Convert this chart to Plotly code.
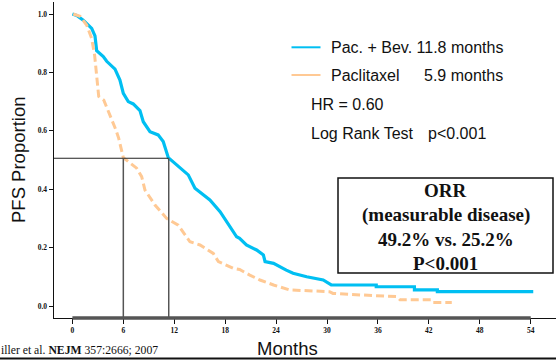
import plotly.graph_objects as go

# ---- data ----
pac_bev_months = [0.0, 0.5, 1.28, 2.27, 2.66, 2.86, 3.64, 4.04, 5.02, 5.6, 6.0, 6.58, 7.17, 7.96,
                  8.35, 9.14, 10.1, 10.7, 11.3, 12.67, 13.65, 14.44, 16.2, 17.4, 18.36, 19.35,
                  19.7, 20.5, 21.7, 22.5, 22.7, 23.7, 25.2, 26.0, 27.6, 29.55, 30.5, 35.8, 35.8,
                  40.3, 40.3, 43.0, 43.0, 54.3]
pac_bev_pfs = [1.0, 0.995, 0.979, 0.951, 0.925, 0.874, 0.854, 0.838, 0.811, 0.774, 0.728, 0.70,
               0.692, 0.669, 0.631, 0.597, 0.586, 0.563, 0.508, 0.472, 0.449, 0.403, 0.363, 0.323,
               0.283, 0.237, 0.232, 0.209, 0.192, 0.175, 0.152, 0.146, 0.123, 0.112, 0.100, 0.089,
               0.072, 0.072, 0.066, 0.066, 0.055, 0.055, 0.049, 0.049]

pac_months = [0.1, 0.9, 1.68, 2.27, 2.62, 2.82, 3.1, 3.7, 4.5, 5.1, 5.45, 5.8, 6.0, 7.57, 8.16,
              8.55, 9.73, 11.1, 12.47, 13.85, 15.03, 16.6, 17.2, 18.95, 19.7, 20.9, 22.1, 23.7,
              24.8, 25.6, 30.3, 30.7, 33.9, 38.2, 38.6, 42.3, 42.5, 44.7]
pac_pfs = [1.0, 0.992, 0.962, 0.916, 0.858, 0.79, 0.718, 0.705, 0.65, 0.605, 0.575, 0.528, 0.508,
           0.472, 0.443, 0.397, 0.346, 0.30, 0.277, 0.220, 0.209, 0.180, 0.152, 0.129, 0.125,
           0.106, 0.089, 0.072, 0.061, 0.055, 0.049, 0.043, 0.038, 0.032, 0.021, 0.021, 0.012,
           0.012]

median_months = [11.35, 6.0]   # drawn median guide lines
median_level = 0.506
x_ticks = [0, 6, 12, 18, 24, 30, 36, 42, 48, 54]
y_ticks = [0.0, 0.2, 0.4, 0.6, 0.8, 1.0]

legend_labels = ["Pac. + Bev. 11.8 months", "Paclitaxel", "5.9 months"]
stat_labels = ["HR = 0.60", "Log Rank Test", "p<0.001"]
box_lines = ["ORR", "(measurable disease)", "49.2% vs. 25.2%", "P<0.001"]
footnote = "iller et al. <b>NEJM</b> 357:2666; 2007"

BLUE = "#00BFF2"
PEACH = "#FFC994"

W, H = 556, 360
L, R, T, B = 54, 0, 2, 42


def px(x):
    return (x - L) / (W - L - R)


def py(y):
    return (H - B - y) / (H - T - B)


fig = go.Figure()
fig.add_trace(go.Scatter(x=pac_bev_months, y=pac_bev_pfs, mode="lines",
                         line=dict(color=BLUE, width=3.2), showlegend=False, hoverinfo="skip"))
fig.add_trace(go.Scatter(x=pac_months, y=pac_pfs, mode="lines",
                         line=dict(color=PEACH, width=3, dash="8px,4px"), showlegend=False,
                         hoverinfo="skip"))

shapes = []
# median guides
shapes.append(dict(type="line", xref="x", yref="y", x0=-2.2, x1=median_months[0],
                   y0=median_level, y1=median_level, line=dict(color="#222", width=1.2)))
for m in median_months:
    shapes.append(dict(type="line", xref="x", yref="paper", x0=m, x1=m, y0=0,
                       y1=(median_level + 0.0411) / 1.0822, line=dict(color="#555", width=1.5)))
# thick grey x baseline
shapes.append(dict(type="line", xref="x", yref="paper", x0=0, x1=54, y0=0, y1=0,
                   line=dict(color="#555", width=3.5)))
# legend samples
shapes.append(dict(type="line", xref="paper", yref="paper", x0=px(291.5), x1=px(320.5),
                   y0=py(47.3), y1=py(47.3), line=dict(color=BLUE, width=2)))
shapes.append(dict(type="line", xref="paper", yref="paper", x0=px(291.5), x1=px(320.5),
                   y0=py(75), y1=py(75), line=dict(color=PEACH, width=2)))
# ORR box
shapes.append(dict(type="rect", xref="paper", yref="paper", x0=px(338), x1=px(553),
                   y0=py(273), y1=py(178), line=dict(color="#111", width=1.5),
                   fillcolor="white"))
# bottom rule
shapes.append(dict(type="line", xref="paper", yref="paper", x0=px(0), x1=px(556),
                   y0=py(358.5), y1=py(358.5), line=dict(color="#111", width=2)))

ann = []
sans = "Liberation Sans, Arial, sans-serif"
serif = "Liberation Serif, Times New Roman, serif"


def text(x, y, s, size, family=sans, xanchor="left", **kw):
    ann.append(dict(x=px(x), y=py(y), xref="paper", yref="paper", text=s, showarrow=False,
                    xanchor=xanchor, yanchor="middle", font=dict(family=family, size=size,
                                                                 color="#111"), **kw))


text(329, 47.5, legend_labels[0], 16)
text(329, 75.5, legend_labels[1], 16)
text(422, 75.5, legend_labels[2], 16)
text(309, 104.5, stat_labels[0], 16)
text(309, 133.5, stat_labels[1], 16)
text(426, 133.5, stat_labels[2], 16)

for i, line in enumerate(box_lines):
    text(445.5, 190 + i * 24.5, "<b>%s</b>" % line, 19, family=serif, xanchor="center")

text(-1, 350, footnote, 11.7, family=serif)
text(287, 348, "Months", 18.5, xanchor="center")
ann.append(dict(x=px(18), y=py(160), xref="paper", yref="paper", text="PFS Proportion",
                showarrow=False, textangle=-90, xanchor="center", yanchor="middle",
                font=dict(family=sans, size=18.5, color="#111")))

fig.update_layout(
    width=W, height=H, margin=dict(l=L, r=R, t=T, b=B, autoexpand=False),
    paper_bgcolor="white", plot_bgcolor="white", shapes=shapes, annotations=ann,
    hovermode=False,
    xaxis=dict(range=[-2.168, 56.98], tickvals=x_ticks,
               ticktext=["<b>%d</b>" % v for v in x_ticks],
               showgrid=False, zeroline=False, showline=True, linecolor="#111", linewidth=1,
               ticks="outside", ticklen=5, tickcolor="#111", tickwidth=1, automargin=False,
               tickfont=dict(family=serif, size=7.5, color="#111"), fixedrange=True),
    yaxis=dict(range=[-0.0411, 1.0411], tickvals=y_ticks,
               ticktext=["<b>%.1f</b>" % v for v in y_ticks], showgrid=False, zeroline=False,
               showline=True, linecolor="#111", linewidth=1.5, ticks="outside", ticklen=4,
               tickcolor="#111", tickwidth=1, automargin=False,
               tickfont=dict(family=serif, size=7.5, color="#111"), fixedrange=True),
)

fig.write_html("out.html", config={"displayModeBar": False, "staticPlot": True},
               post_script="document.body.style.margin='0';"
                           "document.body.style.overflow='hidden';")
